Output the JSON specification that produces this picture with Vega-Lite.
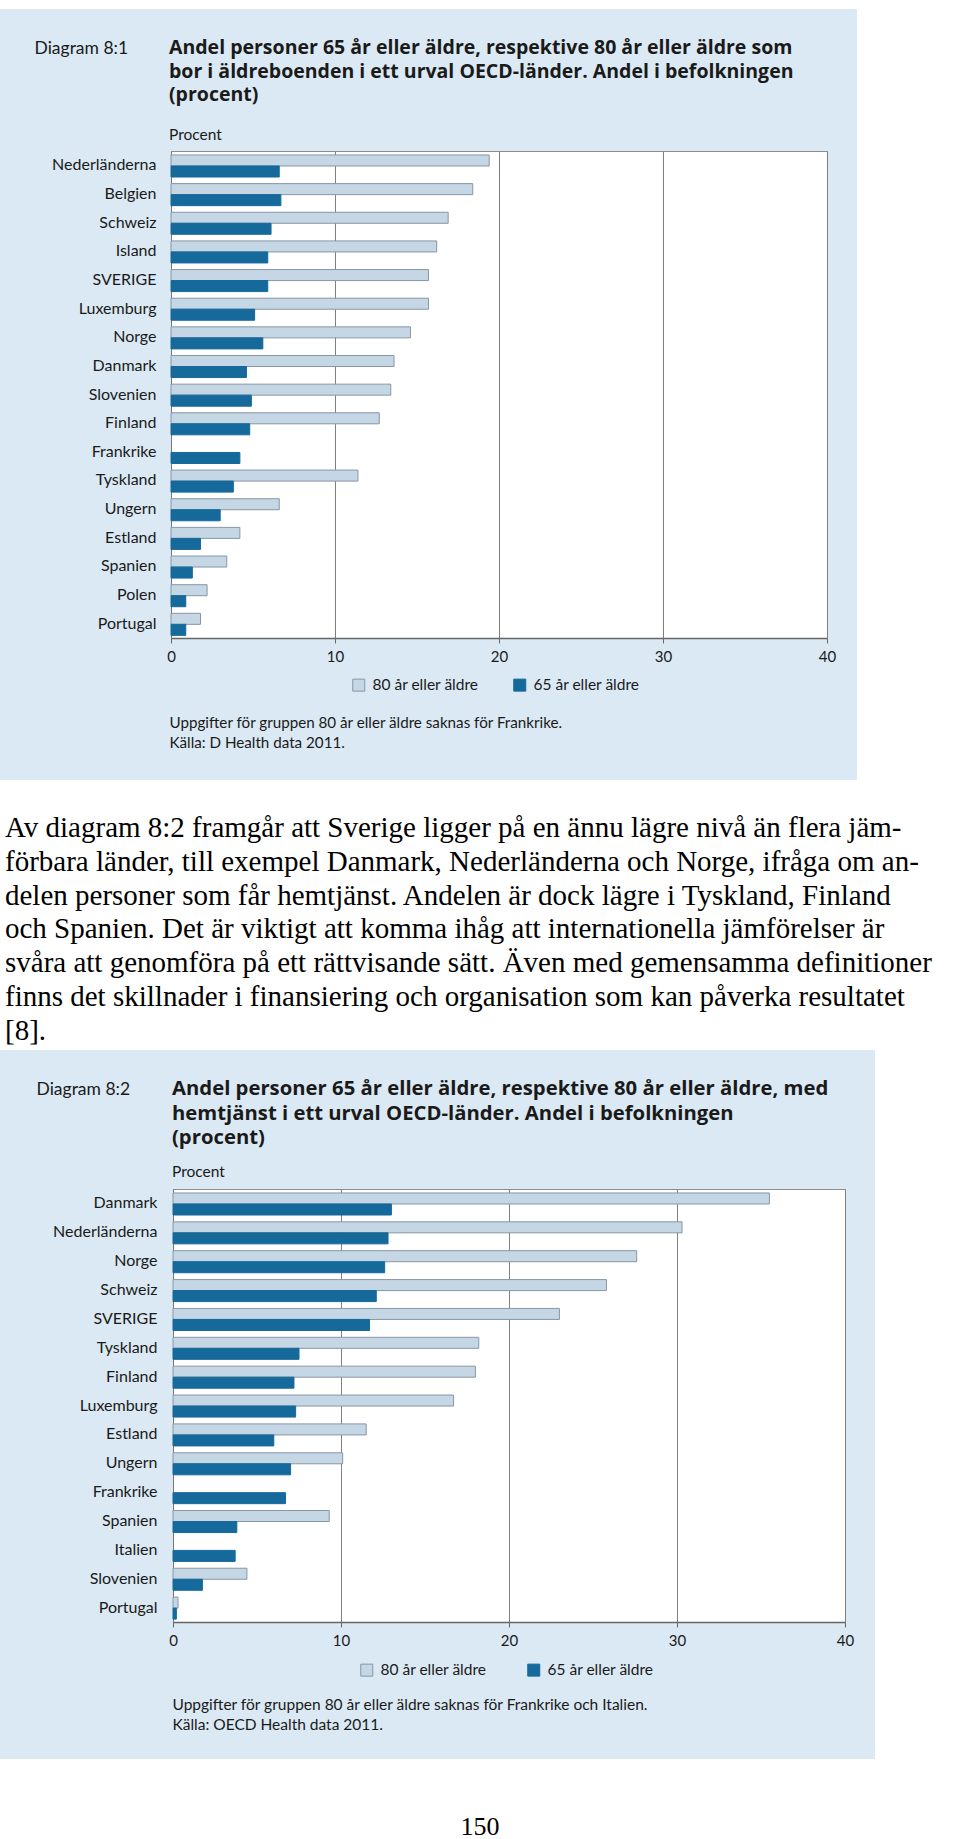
{
  "$schema": "https://vega.github.io/schema/vega-lite/v6.json",
  "background": "#dae9f3",
  "padding": 0,
  "spacing": 0,
  "config": {"view": {"stroke": null}, "concat": {"spacing": 0}, "font": "Lato"},
  "resolve": {"scale": {"color": "independent", "stroke": "independent"}, "legend": {"color": "independent", "stroke": "independent"}},
  "datasets": {
    "d1": [
      {"land": "Nederländerna", "grupp": "80 år eller äldre", "andel": 19.4},
      {"land": "Nederländerna", "grupp": "65 år eller äldre", "andel": 6.6},
      {"land": "Belgien", "grupp": "80 år eller äldre", "andel": 18.4},
      {"land": "Belgien", "grupp": "65 år eller äldre", "andel": 6.7},
      {"land": "Schweiz", "grupp": "80 år eller äldre", "andel": 16.9},
      {"land": "Schweiz", "grupp": "65 år eller äldre", "andel": 6.1},
      {"land": "Island", "grupp": "80 år eller äldre", "andel": 16.2},
      {"land": "Island", "grupp": "65 år eller äldre", "andel": 5.9},
      {"land": "SVERIGE", "grupp": "80 år eller äldre", "andel": 15.7},
      {"land": "SVERIGE", "grupp": "65 år eller äldre", "andel": 5.9},
      {"land": "Luxemburg", "grupp": "80 år eller äldre", "andel": 15.7},
      {"land": "Luxemburg", "grupp": "65 år eller äldre", "andel": 5.1},
      {"land": "Norge", "grupp": "80 år eller äldre", "andel": 14.6},
      {"land": "Norge", "grupp": "65 år eller äldre", "andel": 5.6},
      {"land": "Danmark", "grupp": "80 år eller äldre", "andel": 13.6},
      {"land": "Danmark", "grupp": "65 år eller äldre", "andel": 4.6},
      {"land": "Slovenien", "grupp": "80 år eller äldre", "andel": 13.4},
      {"land": "Slovenien", "grupp": "65 år eller äldre", "andel": 4.9},
      {"land": "Finland", "grupp": "80 år eller äldre", "andel": 12.7},
      {"land": "Finland", "grupp": "65 år eller äldre", "andel": 4.8},
      {"land": "Frankrike", "grupp": "65 år eller äldre", "andel": 4.2},
      {"land": "Tyskland", "grupp": "80 år eller äldre", "andel": 11.4},
      {"land": "Tyskland", "grupp": "65 år eller äldre", "andel": 3.8},
      {"land": "Ungern", "grupp": "80 år eller äldre", "andel": 6.6},
      {"land": "Ungern", "grupp": "65 år eller äldre", "andel": 3.0},
      {"land": "Estland", "grupp": "80 år eller äldre", "andel": 4.2},
      {"land": "Estland", "grupp": "65 år eller äldre", "andel": 1.8},
      {"land": "Spanien", "grupp": "80 år eller äldre", "andel": 3.4},
      {"land": "Spanien", "grupp": "65 år eller äldre", "andel": 1.3},
      {"land": "Polen", "grupp": "80 år eller äldre", "andel": 2.2},
      {"land": "Polen", "grupp": "65 år eller äldre", "andel": 0.9},
      {"land": "Portugal", "grupp": "80 år eller äldre", "andel": 1.8},
      {"land": "Portugal", "grupp": "65 år eller äldre", "andel": 0.9}
    ],
    "d2": [
      {"land": "Danmark", "grupp": "80 år eller äldre", "andel": 35.5},
      {"land": "Danmark", "grupp": "65 år eller äldre", "andel": 13.0},
      {"land": "Nederländerna", "grupp": "80 år eller äldre", "andel": 30.3},
      {"land": "Nederländerna", "grupp": "65 år eller äldre", "andel": 12.8},
      {"land": "Norge", "grupp": "80 år eller äldre", "andel": 27.6},
      {"land": "Norge", "grupp": "65 år eller äldre", "andel": 12.6},
      {"land": "Schweiz", "grupp": "80 år eller äldre", "andel": 25.8},
      {"land": "Schweiz", "grupp": "65 år eller äldre", "andel": 12.1},
      {"land": "SVERIGE", "grupp": "80 år eller äldre", "andel": 23.0},
      {"land": "SVERIGE", "grupp": "65 år eller äldre", "andel": 11.7},
      {"land": "Tyskland", "grupp": "80 år eller äldre", "andel": 18.2},
      {"land": "Tyskland", "grupp": "65 år eller äldre", "andel": 7.5},
      {"land": "Finland", "grupp": "80 år eller äldre", "andel": 18.0},
      {"land": "Finland", "grupp": "65 år eller äldre", "andel": 7.2},
      {"land": "Luxemburg", "grupp": "80 år eller äldre", "andel": 16.7},
      {"land": "Luxemburg", "grupp": "65 år eller äldre", "andel": 7.3},
      {"land": "Estland", "grupp": "80 år eller äldre", "andel": 11.5},
      {"land": "Estland", "grupp": "65 år eller äldre", "andel": 6.0},
      {"land": "Ungern", "grupp": "80 år eller äldre", "andel": 10.1},
      {"land": "Ungern", "grupp": "65 år eller äldre", "andel": 7.0},
      {"land": "Frankrike", "grupp": "65 år eller äldre", "andel": 6.7},
      {"land": "Spanien", "grupp": "80 år eller äldre", "andel": 9.3},
      {"land": "Spanien", "grupp": "65 år eller äldre", "andel": 3.8},
      {"land": "Italien", "grupp": "65 år eller äldre", "andel": 3.7},
      {"land": "Slovenien", "grupp": "80 år eller äldre", "andel": 4.4},
      {"land": "Slovenien", "grupp": "65 år eller äldre", "andel": 1.75},
      {"land": "Portugal", "grupp": "80 år eller äldre", "andel": 0.3},
      {"land": "Portugal", "grupp": "65 år eller äldre", "andel": 0.2}
    ],
    "stycke": [
      {"rad": 1, "text": "Av diagram 8:2 framgår att Sverige ligger på en ännu lägre nivå än flera jäm-"},
      {"rad": 2, "text": "förbara länder, till exempel Danmark, Nederländerna och Norge, ifråga om an-"},
      {"rad": 3, "text": "delen personer som får hemtjänst. Andelen är dock lägre i Tyskland, Finland"},
      {"rad": 4, "text": "och Spanien. Det är viktigt att komma ihåg att internationella jämförelser är"},
      {"rad": 5, "text": "svåra att genomföra på ett rättvisande sätt. Även med gemensamma definitioner"},
      {"rad": 6, "text": "finns det skillnader i finansiering och organisation som kan påverka resultatet"},
      {"rad": 7, "text": "[8]."}
    ],
    "tom": [{}],
    "sida": [{"nr": "150"}]
  },
  "vconcat": [
    {"width": 960, "height": 9, "data": {"name": "tom"}, "mark": {"type": "rect", "color": "white"}, "encoding": {}, "view": {"fill": "white", "stroke": null}},
    {
      "resolve": {"scale": {"color": "independent", "stroke": "independent"}, "legend": {"color": "independent", "stroke": "independent"}},
      "hconcat": [
        {"width": 33, "height": 771, "data": {"name": "tom"}, "mark": {"type": "rect", "opacity": 0}, "encoding": {}},
        {
          "resolve": {"scale": {"color": "independent", "stroke": "independent"}, "legend": {"color": "independent", "stroke": "independent"}},
          "vconcat": [
            {"width": 1, "height": 28, "data": {"name": "tom"}, "mark": {"type": "rect", "opacity": 0}, "encoding": {}},
            {
              "width": 656,
              "height": 487,
              "data": {"name": "d1"},
              "view": {"fill": "white", "stroke": "#8c8c8c", "strokeWidth": 1},
              "title": {
                "text": ["Andel personer 65 år eller äldre, respektive 80 år eller äldre som", "bor i äldreboenden i ett urval OECD-länder. Andel i befolkningen", "(procent)"],
                "subtitle": "Procent",
                "anchor": "start", "frame": "group", "dx": -2,
                "font": "Open Sans", "fontSize": 19.5, "fontWeight": "bold", "color": "#1a1a1a", "lineHeight": 23.5,
                "subtitleFont": "Lato", "subtitleFontSize": 15.5, "subtitleColor": "#1a1a1a", "subtitlePadding": 22,
                "offset": -105
              },
              "mark": {"type": "bar", "strokeWidth": 1},
              "encoding": {
                "y": {
                  "field": "land", "type": "nominal",
                  "sort": ["Nederländerna", "Belgien", "Schweiz", "Island", "SVERIGE", "Luxemburg", "Norge", "Danmark", "Slovenien", "Finland", "Frankrike", "Tyskland", "Ungern", "Estland", "Spanien", "Polen", "Portugal"],
                  "scale": {"paddingInner": 0, "paddingOuter": 0},
                  "axis": {
                    "title": "Diagram 8:1", "titleAngle": 0, "titleAlign": "left", "titleBaseline": "alphabetic",
                    "titleX": -137, "titleY": -98, "titleFont": "Lato", "titleFontSize": 17.5, "titleFontWeight": "normal", "titleColor": "#1a1a1a",
                    "labelFont": "Lato", "labelFontSize": 16, "labelColor": "#1a1a1a", "labelPadding": 15,
                    "ticks": false, "domainColor": "#777777"
                  }
                },
                "yOffset": {
                  "field": "grupp", "type": "nominal",
                  "sort": ["80 år eller äldre", "65 år eller äldre"],
                  "scale": {"paddingInner": 0, "paddingOuter": 0.3, "align": 0.6}
                },
                "x": {
                  "field": "andel", "type": "quantitative",
                  "scale": {"domain": [0, 40], "nice": false},
                  "axis": {
                    "values": [0, 10, 20, 30, 40], "labelFlush": false,
                    "title": ["Uppgifter för gruppen 80 år eller äldre saknas för Frankrike.", "Källa: D Health data 2011."],
                    "titleAlign": "left", "titleBaseline": "alphabetic", "titleX": -2, "titleY": 89,
                    "titleFont": "Lato", "titleFontSize": 15.2, "titleFontWeight": "normal", "titleLineHeight": 20.5, "titleColor": "#1a1a1a",
                    "labelFont": "Lato", "labelFontSize": 15, "labelColor": "#1a1a1a", "labelPadding": 6,
                    "tickSize": 5, "tickColor": "#666666", "domainColor": "#666666", "domainWidth": 1.5,
                    "grid": true, "gridColor": "#808080"
                  }
                },
                "color": {
                  "field": "grupp", "type": "nominal",
                  "scale": {"domain": ["80 år eller äldre", "65 år eller äldre"], "range": ["#c5d6e4", "#16699b"]},
                  "legend": {
                    "orient": "none", "legendX": 180, "legendY": 526, "direction": "horizontal", "title": null,
                    "symbolType": "square", "symbolSize": 144, "symbolStrokeColor": "#8796a5", "symbolStrokeWidth": 1,
                    "labelFont": "Lato", "labelFontSize": 15.5, "labelColor": "#1a1a1a", "labelOffset": 6, "columnPadding": 32
                  }
                },
                "stroke": {
                  "field": "grupp", "type": "nominal",
                  "scale": {"domain": ["80 år eller äldre", "65 år eller äldre"], "range": ["#8796a5", "#16699b"]},
                  "legend": null
                }
              }
            }
          ]
        },
        {"width": 20, "height": 771, "data": {"name": "tom"}, "mark": {"type": "rect", "opacity": 0}, "encoding": {}},
        {"width": 106, "height": 771, "data": {"name": "tom"}, "mark": {"type": "rect", "color": "white"}, "encoding": {}, "view": {"fill": "white", "stroke": null}}
      ]
    },
    {
      "width": 960,
      "height": 270,
      "data": {"name": "stycke"},
      "view": {"fill": "white", "stroke": null},
      "mark": {"type": "text", "align": "left", "baseline": "alphabetic", "font": "Liberation Serif", "fontSize": 29, "color": "#000000"},
      "encoding": {
        "x": {"value": 5},
        "y": {"field": "rad", "type": "ordinal", "scale": {"type": "point", "padding": 1.116, "align": 0.847}, "axis": null},
        "text": {"field": "text"}
      }
    },
    {
      "resolve": {"scale": {"color": "independent", "stroke": "independent"}, "legend": {"color": "independent", "stroke": "independent"}},
      "hconcat": [
        {"width": 35, "height": 709, "data": {"name": "tom"}, "mark": {"type": "rect", "opacity": 0}, "encoding": {}},
        {
          "resolve": {"scale": {"color": "independent", "stroke": "independent"}, "legend": {"color": "independent", "stroke": "independent"}},
          "vconcat": [
            {"width": 1, "height": 28, "data": {"name": "tom"}, "mark": {"type": "rect", "opacity": 0}, "encoding": {}},
            {
              "width": 672,
              "height": 433,
              "data": {"name": "d2"},
              "view": {"fill": "white", "stroke": "#8c8c8c", "strokeWidth": 1},
              "title": {
                "text": ["Andel personer 65 år eller äldre, respektive 80 år eller äldre, med", "hemtjänst i ett urval OECD-länder. Andel i befolkningen", "(procent)"],
                "subtitle": "Procent",
                "anchor": "start", "frame": "group", "dx": -1,
                "font": "Open Sans", "fontSize": 20.3, "fontWeight": "bold", "color": "#1a1a1a", "lineHeight": 24.5,
                "subtitleFont": "Lato", "subtitleFontSize": 15.5, "subtitleColor": "#1a1a1a", "subtitlePadding": 16,
                "offset": -100
              },
              "mark": {"type": "bar", "strokeWidth": 1},
              "encoding": {
                "y": {
                  "field": "land", "type": "nominal",
                  "sort": ["Danmark", "Nederländerna", "Norge", "Schweiz", "SVERIGE", "Tyskland", "Finland", "Luxemburg", "Estland", "Ungern", "Frankrike", "Spanien", "Italien", "Slovenien", "Portugal"],
                  "scale": {"paddingInner": 0, "paddingOuter": 0},
                  "axis": {
                    "title": "Diagram 8:2", "titleAngle": 0, "titleAlign": "left", "titleBaseline": "alphabetic",
                    "titleX": -137, "titleY": -95, "titleFont": "Lato", "titleFontSize": 17.5, "titleFontWeight": "normal", "titleColor": "#1a1a1a",
                    "labelFont": "Lato", "labelFontSize": 16, "labelColor": "#1a1a1a", "labelPadding": 16,
                    "ticks": false, "domainColor": "#777777"
                  }
                },
                "yOffset": {
                  "field": "grupp", "type": "nominal",
                  "sort": ["80 år eller äldre", "65 år eller äldre"],
                  "scale": {"paddingInner": 0, "paddingOuter": 0.3, "align": 0.55}
                },
                "x": {
                  "field": "andel", "type": "quantitative",
                  "scale": {"domain": [0, 40], "nice": false},
                  "axis": {
                    "values": [0, 10, 20, 30, 40], "labelFlush": false,
                    "title": ["Uppgifter för gruppen 80 år eller äldre saknas för Frankrike och Italien.", "Källa: OECD Health data 2011."],
                    "titleAlign": "left", "titleBaseline": "alphabetic", "titleX": -1, "titleY": 87,
                    "titleFont": "Lato", "titleFontSize": 15.5, "titleFontWeight": "normal", "titleLineHeight": 20, "titleColor": "#1a1a1a",
                    "labelFont": "Lato", "labelFontSize": 15, "labelColor": "#1a1a1a", "labelPadding": 6,
                    "tickSize": 5, "tickColor": "#666666", "domainColor": "#666666", "domainWidth": 1.5,
                    "grid": true, "gridColor": "#808080"
                  }
                },
                "color": {
                  "field": "grupp", "type": "nominal",
                  "scale": {"domain": ["80 år eller äldre", "65 år eller äldre"], "range": ["#c5d6e4", "#16699b"]},
                  "legend": {
                    "orient": "none", "legendX": 186, "legendY": 473, "direction": "horizontal", "title": null,
                    "symbolType": "square", "symbolSize": 144, "symbolStrokeColor": "#8796a5", "symbolStrokeWidth": 1,
                    "labelFont": "Lato", "labelFontSize": 15.5, "labelColor": "#1a1a1a", "labelOffset": 6, "columnPadding": 38
                  }
                },
                "stroke": {
                  "field": "grupp", "type": "nominal",
                  "scale": {"domain": ["80 år eller äldre", "65 år eller äldre"], "range": ["#8796a5", "#16699b"]},
                  "legend": null
                }
              }
            }
          ]
        },
        {"width": 20, "height": 709, "data": {"name": "tom"}, "mark": {"type": "rect", "opacity": 0}, "encoding": {}},
        {"width": 87, "height": 709, "data": {"name": "tom"}, "mark": {"type": "rect", "color": "white"}, "encoding": {}, "view": {"fill": "white", "stroke": null}}
      ]
    },
    {
      "width": 960,
      "height": 80,
      "data": {"name": "sida"},
      "view": {"fill": "white", "stroke": null},
      "mark": {"type": "text", "font": "Liberation Serif", "fontSize": 26, "baseline": "alphabetic", "dy": 36, "color": "#000000"},
      "encoding": {"text": {"field": "nr"}}
    }
  ]
}
